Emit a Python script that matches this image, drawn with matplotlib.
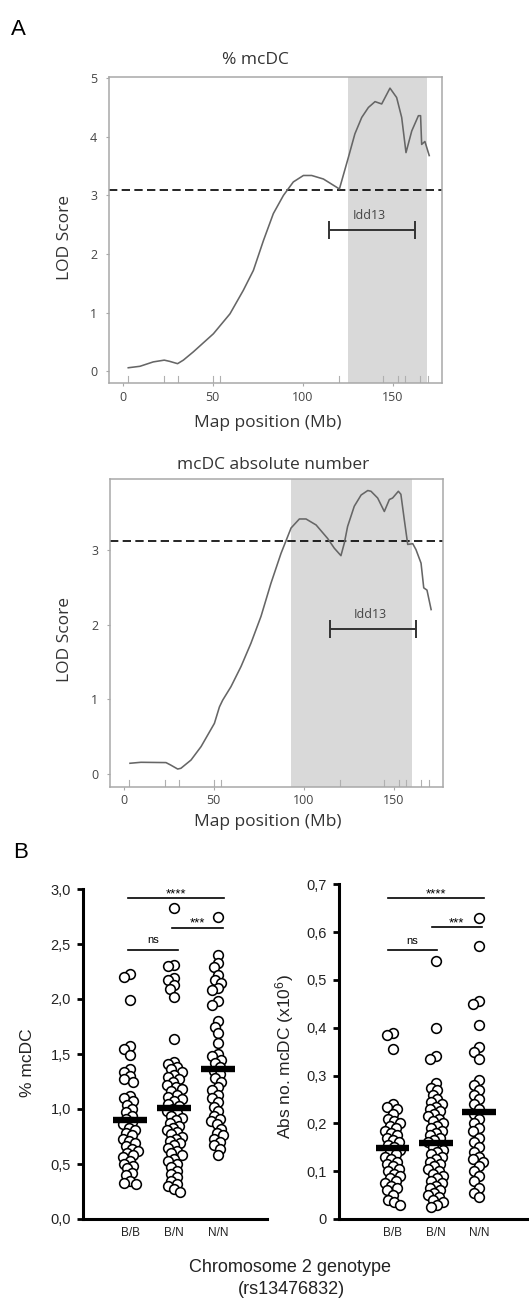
import matplotlib
matplotlib.use('Agg')
import matplotlib.pyplot as plt
import numpy as np
from matplotlib.transforms import blended_transform_factory

# ------------------------- data -------------------------
# Panel A: LOD profiles along chromosome 2 (Mb)
pos_pct = [3.1, 9.6, 17, 23.1, 26, 30.5, 33.7, 39.2, 50.4, 59.6, 67, 72.6, 78.2, 83.7,
           89.3, 94.8, 100.4, 105, 111.5, 120.4, 121.7, 125.4, 129, 132.8, 136.5, 140.2,
           143.9, 148.5, 152.2, 155, 157.4, 160.6, 164.3, 165.5, 166.1, 167.9, 170.3]
lod_pct = [0.06, 0.085, 0.16, 0.19, 0.17, 0.13, 0.19, 0.33, 0.64, 0.98, 1.38, 1.72, 2.23, 2.69,
           3.0, 3.23, 3.34, 3.34, 3.28, 3.11, 3.25, 3.65, 4.05, 4.33, 4.50, 4.60,
           4.56, 4.83, 4.67, 4.33, 3.73, 4.1, 4.36, 4.36, 3.87, 3.92, 3.68]

pos_abs = [3.5, 9.6, 23.5, 26, 30, 31.8, 37.4, 43, 50.4, 53.2, 55, 59.6, 65.2, 70.7, 76.3,
           81.8, 87.4, 93, 97.6, 101.3, 106.9, 113.3, 117, 120.7, 122.6, 124.4, 128.1,
           131.9, 135.6, 137.4, 141.1, 144.8, 147.6, 149.4, 152.6, 154, 155.9, 157.8,
           160.6, 162.4, 165.2, 166.7, 168.5, 170.8]
lod_abs = [0.147, 0.16, 0.156, 0.125, 0.07, 0.08, 0.19, 0.37, 0.68, 0.9, 0.99, 1.17, 1.44, 1.75,
           2.11, 2.55, 2.95, 3.29, 3.41, 3.41, 3.33, 3.15, 3.02, 2.92, 3.09, 3.31, 3.58,
           3.73, 3.79, 3.78, 3.69, 3.51, 3.67, 3.69, 3.78, 3.74, 3.40, 3.07,
           3.08, 3.0, 2.82, 2.49, 2.46, 2.2]

marker_pos = [3.1, 23.1, 30.5, 50.4, 54.1, 120.4, 144.4, 153.1, 156.8, 165.2, 169.8]
threshold_pct = 3.09
threshold_abs = 3.12
shade_pct = (125, 169.2)
shade_abs = (93, 160.1)
idd13 = (114.8, 162.4)
idd13_y_pct = 2.41
idd13_y_abs = 1.94

# Panel B: per-mouse values by genotype
genotypes = ['B/B', 'B/N', 'N/N']

BB_pct = [2.23, 2.20, 1.99, 1.57, 1.55, 1.49, 1.36, 1.34, 1.30, 1.27, 1.25, 1.12, 1.10, 1.07,
          1.04, 1.00, 0.97, 0.94, 0.91, 0.88, 0.86, 0.83, 0.81, 0.78, 0.76, 0.73, 0.71, 0.69,
          0.66, 0.64, 0.62, 0.60, 0.58, 0.56, 0.53, 0.50, 0.48, 0.46, 0.42, 0.40, 0.35, 0.33, 0.32]
BN_pct = [2.83, 2.31, 2.30, 2.19, 2.17, 2.13, 2.09, 2.02, 1.64, 1.43, 1.41, 1.38, 1.36, 1.34,
          1.31, 1.29, 1.27, 1.25, 1.22, 1.20, 1.18, 1.16, 1.13, 1.11, 1.09, 1.07, 1.05, 1.03,
          1.00, 0.98, 0.96, 0.94, 0.92, 0.90, 0.87, 0.85, 0.83, 0.81, 0.79, 0.77, 0.75, 0.73,
          0.71, 0.69, 0.67, 0.65, 0.62, 0.60, 0.58, 0.55, 0.53, 0.50, 0.47, 0.44, 0.41, 0.38,
          0.35, 0.32, 0.30, 0.27, 0.25]
NN_pct = [2.75, 2.40, 2.33, 2.29, 2.22, 2.17, 2.15, 2.10, 2.08, 1.98, 1.95, 1.80, 1.75, 1.69,
          1.60, 1.50, 1.48, 1.45, 1.42, 1.38, 1.35, 1.32, 1.28, 1.25, 1.20, 1.17, 1.13, 1.10,
          1.06, 1.02, 0.98, 0.94, 0.91, 0.89, 0.86, 0.82, 0.78, 0.76, 0.73, 0.70, 0.67, 0.64, 0.58]
mean_pct = [0.90, 1.01, 1.36]

BB_abs = [0.39, 0.385, 0.355, 0.24, 0.235, 0.23, 0.22, 0.21, 0.205, 0.20, 0.195, 0.19, 0.185,
          0.18, 0.175, 0.17, 0.165, 0.16, 0.155, 0.15, 0.145, 0.14, 0.135, 0.13, 0.125, 0.12,
          0.115, 0.11, 0.105, 0.10, 0.095, 0.09, 0.085, 0.08, 0.075, 0.07, 0.065, 0.06, 0.05,
          0.04, 0.035, 0.03]
BN_abs = [0.54, 0.40, 0.34, 0.335, 0.285, 0.275, 0.27, 0.26, 0.25, 0.245, 0.24, 0.235, 0.23,
          0.225, 0.22, 0.215, 0.21, 0.205, 0.20, 0.195, 0.19, 0.185, 0.18, 0.175, 0.17, 0.165,
          0.16, 0.155, 0.15, 0.145, 0.14, 0.135, 0.13, 0.125, 0.12, 0.115, 0.11, 0.105, 0.10,
          0.095, 0.09, 0.085, 0.08, 0.075, 0.07, 0.065, 0.06, 0.055, 0.05, 0.045, 0.04, 0.035,
          0.03, 0.025]
NN_abs = [0.63, 0.57, 0.455, 0.45, 0.405, 0.36, 0.35, 0.335, 0.29, 0.28, 0.27, 0.26, 0.25, 0.24,
          0.23, 0.22, 0.21, 0.20, 0.19, 0.185, 0.17, 0.16, 0.15, 0.14, 0.13, 0.125, 0.12, 0.11,
          0.10, 0.09, 0.08, 0.065, 0.055, 0.045]
mean_abs = [0.149, 0.158, 0.224]

# significance brackets: (start, end, y, label)
sig_pct = [(0.95, 3.14, 2.92, '****'), (1.95, 3.10, 2.65, '***'), (0.95, 2.10, 2.45, 'ns')]
sig_abs = [(0.89, 3.12, 0.671, '****'), (1.92, 3.06, 0.61, '***'), (0.89, 2.03, 0.563, 'ns')]

# ------------------------- figure -------------------------
W, H = 529, 1298
fig = plt.figure(figsize=(W / 100, H / 100), dpi=100)

def fx(px):
    return px / W

def fy(py):
    return 1 - py / H

def rect(x0, y0, x1, y1):
    return [fx(x0), fy(y1), fx(x1) - fx(x0), fy(y0) - fy(y1)]

AFONT = 'Open Sans'
GRAY_TXT = '#333333'
FRAME = '#a8a8a8'

def lod_panel(box, pos, lod, ylim, yticks, shade, thr, idd_y, title, title_xy, ylab_xy, xlab_y):
    ax = fig.add_axes(rect(*box))
    ax.set_xlim(-7.6, 177.4)
    ax.set_ylim(*ylim)
    ax.axvspan(shade[0], shade[1], color='#d9d9d9', lw=0, zorder=0)
    ax.axhline(thr, color='black', lw=1.2, ls=(0, (5.0, 2.6)), zorder=2)
    ax.plot(pos, lod, color='#666666', lw=1.15, zorder=3)
    # Idd13 interval
    ax.errorbar([(idd13[0] + idd13[1]) / 2], [idd_y], xerr=[[(idd13[1] - idd13[0]) / 2]],
                fmt='none', ecolor='#333333', elinewidth=1.4, capsize=6.5, capthick=1.4, zorder=4)
    ax.annotate('Idd13', xy=(137, idd_y), xytext=(0, 6), textcoords='offset points',
                ha='center', va='bottom', fontsize=9, color='#444444', family=AFONT)
    # marker rug
    trans = blended_transform_factory(ax.transData, ax.transAxes)
    for m in marker_pos:
        ax.plot([m, m], [0, 0.022], transform=trans, color='#b0b0b0', lw=0.8, zorder=1)
    for s in ax.spines.values():
        s.set_color(FRAME)
        s.set_linewidth(1.1)
    ax.set_xticks([0, 50, 100, 150])
    ax.set_yticks(yticks)
    ax.tick_params(axis='both', colors=FRAME, labelcolor='#444444', labelsize=9,
                   length=2.5, width=0.8, direction='out')
    ax.tick_params(axis='y', pad=6)
    ax.tick_params(axis='x', pad=3)
    for lab in ax.get_xticklabels() + ax.get_yticklabels():
        lab.set_family(AFONT)
    fig.text(fx(title_xy[0]), fy(title_xy[1]), title, ha='center', va='center',
             fontsize=12.5, color=GRAY_TXT, family=AFONT)
    fig.text(fx(ylab_xy[0]), fy(ylab_xy[1]), 'LOD Score', ha='center', va='center',
             rotation=90, fontsize=12.5, color=GRAY_TXT, family=AFONT)
    fig.text(fx(268), fy(xlab_y), 'Map position (Mb)', ha='center', va='center',
             fontsize=12.5, color=GRAY_TXT, family=AFONT)
    return ax

lod_panel((109, 77, 442, 383), pos_pct, lod_pct, (-0.2, 5.02), [0, 1, 2, 3, 4, 5],
          shade_pct, threshold_pct, idd13_y_pct, '% mcDC', (255, 60), (65, 237), 423)
lod_panel((110, 479.3, 443, 786.7), pos_abs, lod_abs, (-0.166, 3.94), [0, 1, 2, 3],
          shade_abs, threshold_abs, idd13_y_abs, 'mcDC absolute number', (273, 465), (65, 639), 822)

fig.text(fx(11), fy(35), 'A', fontsize=16, family='Liberation Sans', va='baseline')
fig.text(fx(13), fy(858), 'B', fontsize=16, family='Liberation Sans', va='baseline')

# ------------------------- panel B -------------------------
BFONT = 'Liberation Sans'
plt.rcParams['mathtext.default'] = 'regular'

def swarm(ax, xc, vals, d=10.0, maxw=7.5, thr=0.6):
    tr = ax.transData
    ppu = tr.transform((1, 0))[0] - tr.transform((0, 0))[0]
    cands = sorted(np.linspace(-maxw, maxw, 11), key=lambda o: (abs(o), o))
    placed = []
    xs = []
    ys = []
    for v in sorted(vals, reverse=True):
        py = tr.transform((xc, v))[1]
        best, bestd = 0.0, -1
        chosen = None
        for o in cands:
            if placed:
                md = min(np.hypot(o - a, py - b) for a, b in placed)
            else:
                md = 1e9
            if md >= thr * d:
                chosen = o
                break
            if md > bestd:
                bestd, best = md, o
        if chosen is None:
            chosen = best
        placed.append((chosen, py))
        xs.append(xc + chosen / ppu)
        ys.append(v)
    return xs, ys

def dot_panel(box, xlim, ylim, yticks, ytlabels, groups, means, sigs, ylabel, ylab_xy):
    ax = fig.add_axes(rect(*box))
    ax.set_xlim(*xlim)
    ax.set_ylim(*ylim)
    for s in ['top', 'right']:
        ax.spines[s].set_visible(False)
    for s in ['left', 'bottom']:
        ax.spines[s].set_linewidth(2.2)
    ax.set_xticks([1, 2, 3])
    ax.set_xticklabels(genotypes, family=BFONT, fontsize=8.5, color='#222222')
    ax.set_yticks(yticks)
    ax.set_yticklabels(ytlabels, family=BFONT, fontsize=10.5, color='#222222')
    ax.tick_params(axis='x', length=0, pad=6)
    ax.tick_params(axis='y', length=4.3, width=2.0, direction='out', pad=4.5)
    for i, vals in enumerate(groups):
        xs, ys = swarm(ax, i + 1, vals)
        ax.plot(xs, ys, 'o', ms=7.0, mfc='white', mec='black', mew=1.15, zorder=3, clip_on=False)
    for i, m in enumerate(means):
        ax.plot([i + 1 - 0.39, i + 1 + 0.39], [m, m], color='black', lw=4.6,
                solid_capstyle='butt', zorder=5)
    for x1, x2, y, lab in sigs:
        ax.plot([x1, x2], [y, y], color='black', lw=1.2, clip_on=False, zorder=4)
        if lab == 'ns':
            ax.annotate(lab, xy=((x1 + x2) / 2, y), xytext=(0, 4.5), textcoords='offset points',
                        ha='center', va='baseline', fontsize=8, family=BFONT)
        else:
            ax.annotate(lab, xy=((x1 + x2) / 2, y), xytext=(0, 0.5), textcoords='offset points',
                        ha='center', va='baseline', fontsize=9.5, family=BFONT)
    fig.text(fx(ylab_xy[0]), fy(ylab_xy[1]), ylabel, ha='center', va='center', rotation=90,
             fontsize=12.5, family=BFONT, color='#222222')
    return ax

dot_panel((83, 889, 267, 1219), (-0.068, 4.11), (0, 3.0), [0, 0.5, 1.0, 1.5, 2.0, 2.5, 3.0],
          ['0,0', '0,5', '1,0', '1,5', '2,0', '2,5', '3,0'],
          [BB_pct, BN_pct, NN_pct], mean_pct, sig_pct, '% mcDC', (28, 1063))
dot_panel((339, 884.3, 529, 1219), (-0.24, 4.16), (0, 0.7),
          [0, 0.1, 0.2, 0.3, 0.4, 0.5, 0.6, 0.7],
          ['0', '0,1', '0,2', '0,3', '0,4', '0,5', '0,6', '0,7'],
          [BB_abs, BN_abs, NN_abs], mean_abs, sig_abs, 'Abs no. mcDC (x10$^6$)', (285, 1057))

fig.text(fx(290), fy(1267), 'Chromosome 2 genotype', ha='center', va='center',
         fontsize=13, family=BFONT, color='#222222')
fig.text(fx(291), fy(1290), '(rs13476832)', ha='center', va='center',
         fontsize=13, family=BFONT, color='#222222')

fig.savefig('out.png', dpi=100)
